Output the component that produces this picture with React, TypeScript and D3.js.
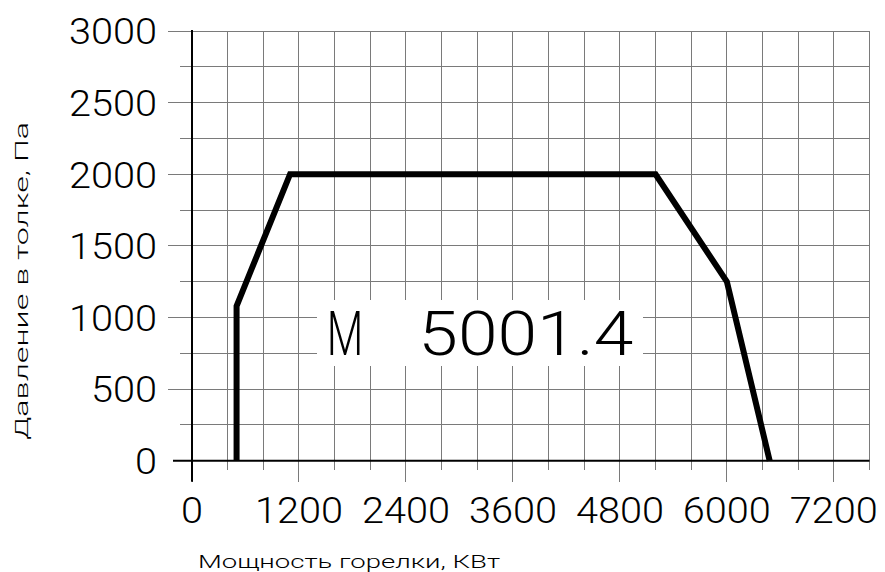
import { useMemo } from "react";
import * as d3 from "d3";

// Burner working field: power (kW) vs furnace pressure (Pa)
const powerKW = [500, 500, 1100, 5200, 6000, 6480];
const pressurePa = [0, 1080, 2000, 2000, 1250, 0];

const xTickLabels = [0, 1200, 2400, 3600, 4800, 6000, 7200];
const yTickLabels = [0, 500, 1000, 1500, 2000, 2500, 3000];
const xGridStep = 400;
const yGridStep = 250;
const xMax = 7600;
const yMax = 3000;

const modelName = "M";
const modelNumber = "5001.4";
const xTitle = "Мощность горелки, КВт";
const yTitle = "Давление в толке, Па";

const W = 885;
const H = 572;
const FONT = "Roboto, 'Liberation Sans', Arial, sans-serif";

export default function App() {
  const x = useMemo(() => d3.scaleLinear().domain([0, xMax]).range([192, 869.5]), []);
  const y = useMemo(() => d3.scaleLinear().domain([0, yMax]).range([460.7, 31]), []);

  const xGrid = d3.range(xGridStep, xMax + 1, xGridStep);
  const yGrid = d3.range(yGridStep, yMax + 1, yGridStep);
  const xTicks = d3.range(0, xMax + 1, xGridStep);

  const pts = powerKW.map((p, i) => [p, pressurePa[i]] as [number, number]);
  const line = d3
    .line<[number, number]>()
    .x((d) => x(d[0]))
    .y((d) => y(d[1]));

  const x0 = x(0);
  const y0 = y(0);
  const digitW = 22;

  return (
    <svg
      width={W}
      height={H}
      style={{ position: "absolute", left: 0, top: 0, background: "#fff" }}
      fontFamily={FONT}
    >
      {/* grid */}
      <g stroke="#7a7a7a" strokeWidth={1} shapeRendering="crispEdges">
        {xGrid.map((v) => (
          <line key={"gx" + v} x1={x(v)} x2={x(v)} y1={y(yMax)} y2={y0} />
        ))}
        {yGrid.map((v) => (
          <line key={"gy" + v} x1={x0} x2={x(xMax)} y1={y(v)} y2={y(v)} />
        ))}
        {/* y ticks */}
        {yGrid.map((v) => (
          <line key={"ty" + v} x1={v % 500 === 0 ? 168 : 180} x2={x0} y1={y(v)} y2={y(v)} />
        ))}
        {/* x ticks */}
        {xTicks.map((v) => (
          <line key={"tx" + v} x1={x(v)} x2={x(v)} y1={y0} y2={v % 1200 === 0 ? 481.7 : 470} />
        ))}
      </g>

      {/* axes */}
      <g stroke="#000" strokeWidth={2}>
        <line x1={x0} x2={x0} y1={y(yMax) - 1} y2={481.7} />
        <line x1={173} x2={x(xMax)} y1={y0} y2={y0} />
      </g>

      {/* label box */}
      <rect x={317} y={300} width={326} height={66} fill="#fff" />
      <text x={326.7} y={355} fontSize={62} fontWeight={300} textLength={36.6} lengthAdjust="spacingAndGlyphs">
        {modelName}
      </text>
      <text x={418.3} y={355} fontSize={62} fontWeight={300} textLength={215} lengthAdjust="spacingAndGlyphs">
        {modelNumber}
      </text>

      {/* curve */}
      <path d={line(pts) ?? ""} fill="none" stroke="#000" strokeWidth={6} strokeLinejoin="miter" />

      {/* tick labels */}
      <g fontSize={37} fontWeight={300} fill="#000">
        {yTickLabels.map((v) => (
          <text
            key={"ly" + v}
            x={157}
            y={y(v) + 13.4}
            textAnchor="end"
            textLength={String(v).length * digitW}
            lengthAdjust="spacingAndGlyphs"
          >
            {v}
          </text>
        ))}
        {xTickLabels.map((v) => (
          <text
            key={"lx" + v}
            x={x(v)}
            y={523.3}
            textAnchor="middle"
            textLength={String(v).length * digitW}
            lengthAdjust="spacingAndGlyphs"
          >
            {v}
          </text>
        ))}
      </g>

      {/* axis titles */}
      <g fontSize={19} fontWeight={300} fill="#000">
        <text x={349} y={568.3} textAnchor="middle" textLength={302} lengthAdjust="spacingAndGlyphs">
          {xTitle}
        </text>
        <text
          transform="translate(28,281) rotate(-90)"
          textAnchor="middle"
          textLength={318}
          lengthAdjust="spacingAndGlyphs"
        >
          {yTitle}
        </text>
      </g>
    </svg>
  );
}
